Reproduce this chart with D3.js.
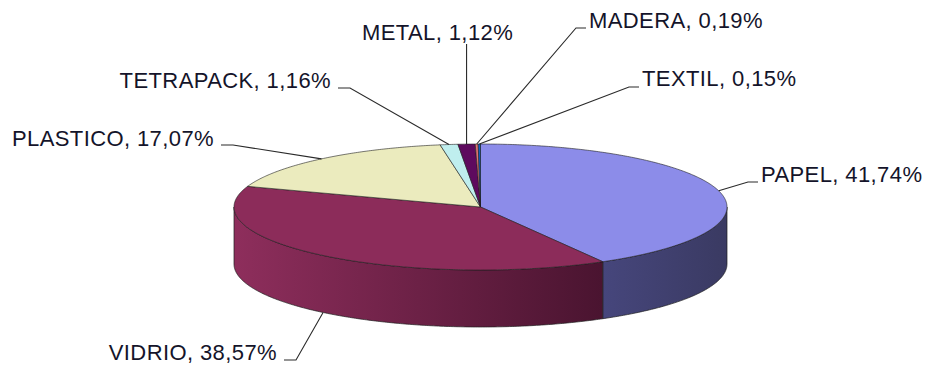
<!DOCTYPE html>
<html>
<head>
<meta charset="utf-8">
<script src="https://cdn.jsdelivr.net/npm/d3@7"></script>
<style>
  html, body { margin: 0; padding: 0; background: #ffffff; }
  svg { display: block; }
  text { font-family: "Liberation Sans", Arial, sans-serif; font-size: 22px; letter-spacing: 0.4px; fill: #14142a; }
</style>
</head>
<body>
<svg id="chart" width="926" height="365"></svg>
<script>
// ---- data ----
const categories = ["PAPEL", "VIDRIO", "PLASTICO", "TETRAPACK", "METAL", "MADERA", "TEXTIL"];
const values = [41.74, 38.57, 17.07, 1.16, 1.12, 0.19, 0.15];

// ---- styles ----
const topColors = ["#8c8ce9", "#8c2c5a", "#ebebbe", "#bfeeee", "#5e0a5e", "#e07272", "#1060c0"];
const sideLight = ["#46467c", "#8e2e5c", "#c8c89e", "#9ccaca", "#4a084a", "#b85c5c", "#0c4e9e"];
const sideDark  = ["#3a3a62", "#4a1430", "#9a9a78", "#7aa0a0", "#380638", "#904848", "#083c7c"];

// ---- layout ----
const W = 926, H = 365;
const cx = 480.5, cy = 207, rx = 246.5, ry = 63, depth = 57;

// label placement: [x, baseline y, anchor, elbow length direction]
const labelLayout = {
  PAPEL:     { x: 761, y: 182, anchor: "start", side: "right", lineY: 182 },
  VIDRIO:    { x: 277, y: 360, anchor: "end",   side: "left",  lineY: 360, bottom: true },
  PLASTICO:  { x: 214, y: 146, anchor: "end",   side: "left",  lineY: 145 },
  TETRAPACK: { x: 331, y: 88,  anchor: "end",   side: "left",  lineY: 88 },
  METAL:     { x: 362, y: 40,  anchor: "start", side: "top",   lineY: 44 },
  MADERA:    { x: 589, y: 28,  anchor: "start", side: "right", lineY: 28 },
  TEXTIL:    { x: 642, y: 86,  anchor: "start", side: "right", lineY: 87 }
};

const svg = d3.select("#chart");
const defs = svg.append("defs");

const pie = d3.pie().sort(null).startAngle(0).endAngle(2 * Math.PI).value(d => d);
const arcs = pie(values);

const px = a => cx + rx * Math.sin(a);
const py = a => cy - ry * Math.cos(a);

function arcPoints(a0, a1, dy) {
  const n = Math.max(2, Math.ceil((a1 - a0) / 0.01));
  return d3.range(n + 1).map(i => {
    const a = a0 + (a1 - a0) * i / n;
    return [px(a), py(a) + dy];
  });
}
const line = d3.line();

// side walls (front half only: angles between PI/2 and 3PI/2)
arcs.forEach((d, i) => {
  const lo = Math.max(d.startAngle, Math.PI / 2);
  const hi = Math.min(d.endAngle, 3 * Math.PI / 2);
  if (lo >= hi) return;
  const gid = "side" + i;
  const x1 = Math.min(px(lo), px(hi)), x2 = Math.max(px(lo), px(hi));
  const g = defs.append("linearGradient").attr("id", gid)
    .attr("gradientUnits", "userSpaceOnUse")
    .attr("x1", x1).attr("x2", x2).attr("y1", 0).attr("y2", 0);
  g.append("stop").attr("offset", 0).attr("stop-color", sideLight[i]);
  g.append("stop").attr("offset", 1).attr("stop-color", sideDark[i]);
  const top = arcPoints(lo, hi, 0);
  const bot = arcPoints(lo, hi, depth).reverse();
  svg.append("path")
    .attr("d", line(top.concat(bot)) + "Z")
    .attr("fill", `url(#${gid})`)
    .attr("stroke", "#1e1e1e").attr("stroke-width", 0.7).attr("stroke-linejoin", "round");
});

// top faces
arcs.forEach((d, i) => {
  const pts = [[cx, cy]].concat(arcPoints(d.startAngle, d.endAngle, 0));
  svg.append("path")
    .attr("d", line(pts) + "Z")
    .attr("fill", topColors[i])
    .attr("stroke", "#1e1e1e").attr("stroke-width", 0.6).attr("stroke-linejoin", "round");
});

// labels + leader lines
const fmt = v => v.toFixed(2).replace(".", ",") + "%";
arcs.forEach((d, i) => {
  const name = categories[i];
  const L = labelLayout[name];
  const mid = (d.startAngle + d.endAngle) / 2;
  const ex = px(mid), ey = py(mid) + (L.bottom ? depth : 0);
  let pts;
  if (L.side === "right") {
    pts = [[L.x - 3, L.lineY], [L.x - 13, L.lineY], [ex, ey]];
  } else if (L.side === "left") {
    pts = [[L.x + 7, L.lineY], [L.x + 19, L.lineY], [ex, ey]];
  } else {
    pts = [[ex, L.lineY], [ex, ey]];
  }
  svg.append("path").attr("d", line(pts))
    .attr("fill", "none").attr("stroke", "#2a2a2a").attr("stroke-width", 1.1);
  svg.append("text")
    .attr("x", L.x).attr("y", L.y)
    .attr("text-anchor", L.anchor)
    .text(name + ", " + fmt(values[i]));
});
</script>
</body>
</html>
